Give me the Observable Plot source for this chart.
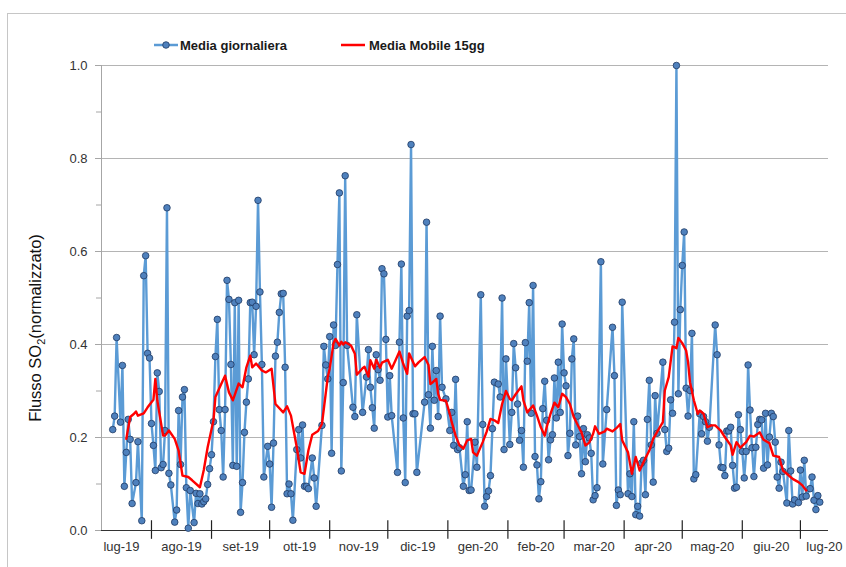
<!DOCTYPE html>
<html>
<head>
<meta charset="utf-8">
<script src="https://cdn.jsdelivr.net/npm/d3@7"></script>
<script src="https://cdn.jsdelivr.net/npm/@observablehq/plot@0.6"></script>
<style>
  body { margin: 0; background: #fff; font-family: "Liberation Sans", Arial, sans-serif; }
  #wrap { position: relative; width: 846px; height: 567px; overflow: hidden; background: #fff; }
  #frame { position: absolute; left: 7px; top: 13px; width: 900px; height: 700px;
           border-left: 1px solid #c6c6c6; border-top: 1px solid #c6c6c6; pointer-events: none; }
  #chart { position: absolute; left: 0; top: 0; }
  .leg { position: absolute; top: 36px; height: 18px; display: flex; align-items: center;
         font: bold 13px "Liberation Sans", Arial, sans-serif; color: #1a1a1a; white-space: nowrap; }
  .leg svg { margin-right: 1px; }
</style>
</head>
<body>
<div id="wrap">
  <div id="frame"></div>
  <div id="chart"></div>
  <div class="leg" style="left:154px">
    <svg width="25" height="12"><line x1="0" x2="24" y1="6" y2="6" stroke="#5B9BD5" stroke-width="2.5"/><circle cx="12" cy="6" r="3.3" fill="#4F81BD" stroke="#1F3A63" stroke-width="0.8"/></svg>
    <span>Media giornaliera</span>
  </div>
  <div class="leg" style="left:341px">
    <svg width="27" height="12"><line x1="0" x2="24" y1="6" y2="6" stroke="#FF0000" stroke-width="2.5"/></svg>
    <span>Media Mobile 15gg</span>
  </div>
</div>
<script>
// ---- Data (day = days since 1 Jul 2019) ----
const dailyDay = [11,12,13,15,16,17,18,19,20,21,23,24,26,27,28,29,30,31,32,33,34,35,36,37,38,39,40,41,43,44,45,46,47,48,49,50,51,53,54,55,56,57,58,59,60,61,62,63,64,65,66,67,68,69,70,71,72,73,74,75,76,77,78,79,80,81,82,83,84,85,86,87,88,89,91,92,93,94,95,96,97,98,99,100,101,102,103,104,106,107,108,109,110,111,112,114,115,116,119,120,121,122,123,124,125,126,127,128,129,130,131,132,135,136,137,140,142,143,144,145,146,147,148,149,150,151,152,153,154,155,158,159,160,161,162,163,164,165,166,167,168,172,173,174,175,176,177,178,179,180,181,183,185,186,187,188,189,190,192,193,194,195,196,198,199,201,202,203,204,205,206,207,208,210,211,212,213,214,216,217,218,219,220,221,222,223,224,225,226,227,228,229,230,231,232,233,234,235,236,237,238,239,240,241,242,243,244,245,246,247,248,249,250,251,252,253,254,255,256,257,258,259,260,261,263,264,266,269,270,271,272,273,274,277,278,279,280,281,282,283,284,285,286,287,288,289,290,291,292,295,296,297,298,299,300,301,302,303,304,305,306,307,308,309,310,311,312,314,315,316,317,318,319,322,323,324,325,326,327,328,329,330,331,332,333,334,335,336,337,338,339,340,341,342,343,344,345,346,347,348,349,350,351,352,353,354,355,356,357,359,360,361,362,363,365,366,367,368,369,371,372,373,374,375,376];
const dailyValue = [.217,.246,.415,.233,.355,.095,.168,.239,.196,.058,.103,.191,.021,.548,.591,.381,.371,.230,.183,.129,.339,.299,.135,.142,.215,.694,.123,.098,.018,.044,.258,.142,.287,.303,.092,.005,.086,.017,.080,.058,.079,.057,.062,.068,.099,.133,.163,.234,.374,.454,.260,.215,.115,.260,.538,.497,.357,.140,.490,.138,.495,.039,.103,.211,.276,.326,.490,.491,.378,.482,.710,.513,.357,.115,.181,.143,.050,.188,.375,.405,.469,.509,.510,.351,.079,.100,.079,.022,.174,.217,.156,.227,.095,.095,.090,.156,.113,.052,.226,.396,.356,.326,.417,.166,.442,.398,.572,.726,.128,.318,.763,.398,.265,.245,.464,.254,.330,.389,.308,.264,.220,.378,.346,.323,.563,.552,.411,.244,.333,.247,.125,.405,.573,.242,.103,.461,.473,.830,.251,.251,.125,.276,.663,.292,.220,.396,.280,.344,.245,.461,.308,.283,.215,.254,.183,.325,.174,.178,.095,.120,.234,.086,.087,.190,.136,.507,.228,.052,.073,.085,.118,.219,.319,.315,.287,.500,.174,.369,.185,.254,.402,.350,.272,.194,.215,.136,.404,.364,.490,.252,.527,.159,.141,.068,.105,.262,.321,.237,.152,.195,.206,.328,.242,.362,.254,.444,.339,.311,.161,.209,.369,.412,.184,.246,.202,.122,.219,.148,.206,.199,.166,.066,.075,.092,.578,.143,.260,.437,.333,.054,.087,.077,.491,.079,.122,.073,.234,.034,.052,.031,.145,.151,.077,.239,.323,.184,.104,.290,.209,.362,.217,.170,.177,.281,.252,.448,1.000,.294,.475,.570,.642,.306,.246,.301,.424,.111,.120,.251,.208,.245,.234,.192,.222,.442,.378,.184,.136,.135,.118,.214,.214,.222,.140,.091,.093,.249,.217,.170,.113,.170,.356,.259,.178,.116,.179,.228,.239,.238,.134,.252,.141,.201,.252,.245,.190,.115,.091,.147,.127,.059,.215,.128,.057,.066,.060,.130,.072,.151,.074,.090,.115,.065,.045,.075,.061];

const maDay = [18,20,22,23,24,27,29,31,32,33,34,37,38,40,43,45,47,50,52,56,58,60,63,64,67,69,71,73,76,78,80,82,83,85,88,90,93,95,99,101,103,106,108,110,112,114,117,119,122,123,125,126,128,129,130,131,134,136,137,140,141,143,144,146,147,149,150,153,155,157,159,161,163,164,167,169,172,174,175,176,178,179,180,183,185,186,188,190,192,194,196,197,199,202,204,206,208,210,212,214,216,217,219,222,223,225,228,230,232,234,235,237,239,241,243,245,247,249,252,253,255,257,259,260,262,265,266,269,271,273,274,277,279,281,283,285,288,290,293,295,296,298,300,302,303,305,307,308,309,311,313,314,316,318,320,322,325,327,330,331,333,335,338,340,342,345,347,350,352,355,357,359,362,365,367,369];
const maValue = [.197,.244,.251,.256,.247,.252,.265,.276,.281,.326,.280,.204,.204,.215,.197,.172,.118,.115,.108,.093,.130,.179,.237,.287,.315,.333,.297,.280,.316,.308,.351,.376,.351,.359,.344,.340,.348,.272,.254,.267,.247,.179,.125,.122,.172,.206,.214,.229,.330,.348,.403,.412,.398,.406,.400,.405,.398,.380,.335,.349,.352,.331,.366,.348,.367,.350,.361,.367,.348,.366,.385,.358,.337,.381,.353,.362,.373,.356,.315,.318,.326,.294,.281,.279,.251,.233,.204,.183,.176,.194,.197,.168,.161,.190,.212,.240,.237,.231,.272,.300,.283,.280,.293,.310,.280,.254,.269,.247,.222,.204,.222,.251,.275,.265,.294,.287,.272,.244,.219,.211,.183,.189,.208,.224,.208,.213,.219,.213,.220,.229,.194,.168,.122,.158,.129,.147,.172,.197,.219,.233,.301,.330,.396,.392,.414,.403,.387,.362,.319,.280,.251,.258,.251,.222,.226,.226,.214,.201,.183,.163,.190,.178,.190,.204,.202,.211,.195,.188,.161,.158,.129,.122,.111,.104,.097,.086];

const monthLabels = ["lug-19","ago-19","set-19","ott-19","nov-19","dic-19","gen-20","feb-20","mar-20","apr-20","mag-20","giu-20","lug-20"];
const yTicks = [0, 0.2, 0.4, 0.6, 0.8, 1.0];
const yMinorTicks = [0.1, 0.3, 0.5, 0.7, 0.9];

// ---- Derived tables ----
const origin = new Date(2019, 6, 1);
const bounds = d3.range(monthLabels.length + 1).map(i => d3.timeDay.count(origin, d3.timeMonth.offset(origin, i)));
const monthTicks = bounds.slice(1, monthLabels.length);
const labelRows = monthLabels.map((lab, i) => ({label: lab, mid: (bounds[i] + bounds[i + 1]) / 2}));
const daily = dailyDay.map((d, i) => ({day: d, value: dailyValue[i]}));
const ma = maDay.map((d, i) => ({day: d, value: maValue[i]}));

const chart = Plot.plot({
  width: 846,
  height: 567,
  marginLeft: 101,
  marginRight: 18,
  marginTop: 65,
  marginBottom: 37,
  style: {fontFamily: "'Liberation Sans', Arial, sans-serif", fontSize: "13px", background: "transparent", overflow: "visible"},
  x: {domain: [5.2, 380.5], axis: null},
  y: {domain: [0, 1], axis: null},
  marks: [
    Plot.ruleY(yTicks.filter(d => d > 0), {stroke: "#b4b4b4", strokeWidth: 1}),
    Plot.ruleX([5.2], {stroke: "#a6a6a6", strokeWidth: 1}),
    Plot.axisY({ticks: yTicks, label: null, tickSize: 6, tickPadding: 8, tickFormat: d3.format(".1f"), stroke: "#a6a6a6", fill: "#333", fontSize: 13}),
    Plot.axisY({ticks: yMinorTicks, label: null, tickSize: 5, tickFormat: () => "", stroke: "#a6a6a6"}),
    Plot.ruleY([0], {stroke: "#333", strokeWidth: 1}),
    Plot.ruleX(monthTicks, {x: d => d, y1: -0.019, y2: 0.021, stroke: "#222", strokeWidth: 1.2}),
    Plot.text(labelRows.slice(0, -1), {x: "mid", y: 0, text: "label", dy: 16, fill: "#333", fontSize: 13}),
    Plot.text(labelRows.slice(-1), {x: "mid", y: 0, text: "label", dy: 16, dx: -6, fill: "#333", fontSize: 13}),
    Plot.line(daily, {x: "day", y: "value", stroke: "#5B9BD5", strokeWidth: 2.4}),
    Plot.dot(daily, {x: "day", y: "value", r: 3.3, fill: "#4F81BD", stroke: "#1F3A63", strokeWidth: 0.8}),
    Plot.line(ma, {x: "day", y: "value", stroke: "#FF0000", strokeWidth: 2.4})
  ]
});
document.getElementById("chart").appendChild(chart);

// y-axis title with subscript
const svg = d3.select(chart);
const t = svg.append("text")
  .attr("transform", "translate(41,328) rotate(-90)")
  .attr("text-anchor", "middle")
  .attr("font-family", "'Liberation Sans', Arial, sans-serif")
  .attr("font-size", 16.5)
  .attr("fill", "#111");
t.append("tspan").text("Flusso SO");
t.append("tspan").attr("font-size", 11).attr("dy", 4).text("2");
t.append("tspan").attr("dy", -4).text("(normalizzato)");
</script>
</body>
</html>
